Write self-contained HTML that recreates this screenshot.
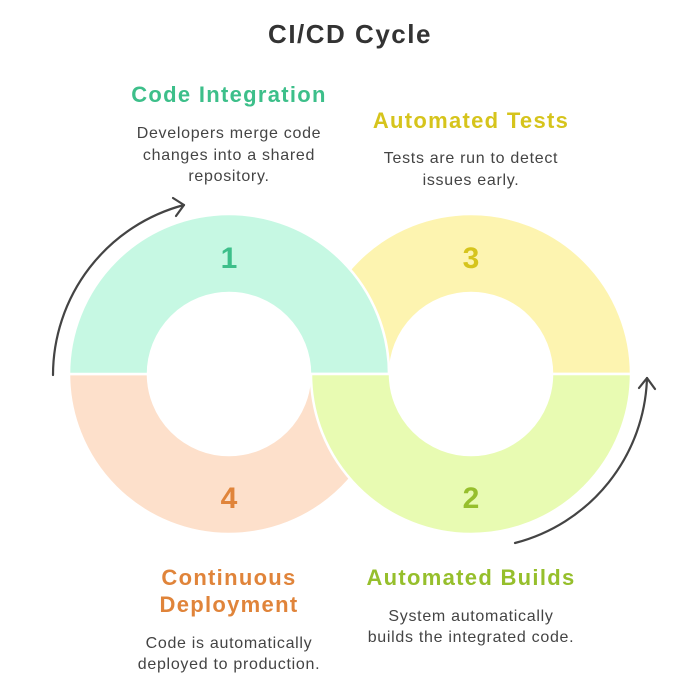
<!DOCTYPE html>
<html><head><meta charset="utf-8"><style>
html,body{margin:0;padding:0;background:#fff;width:700px;height:698px;overflow:hidden}
svg{display:block}
text{font-family:"Liberation Sans",sans-serif}
.h{font-weight:bold;font-size:22px;letter-spacing:1.3px;text-anchor:middle}
.b{font-size:16px;letter-spacing:0.7px;fill:#444;text-anchor:middle}
.n{font-weight:bold;font-size:30px;text-anchor:middle}
</style></head><body>
<svg width="700" height="698" viewBox="0 0 700 698">
<text x="350" y="43" text-anchor="middle" font-size="26" letter-spacing="1.5" font-weight="bold" fill="#333">CI/CD Cycle</text>
<g stroke="#fff" stroke-width="2.5">
<path d="M311,374 A160,160 0 0 1 631,374 L552,374 A81,81 0 0 0 390,374 Z" fill="#fdf4b0"/>
<path d="M69,374 A160,160 0 0 0 389,374 L310,374 A81,81 0 0 1 148,374 Z" fill="#fde0cb"/>
<path d="M69,374 A160,160 0 0 1 389,374 L310,374 A81,81 0 0 0 148,374 Z" fill="#c6f8e3"/>
<path d="M311,374 A160,160 0 0 0 631,374 L552,374 A81,81 0 0 1 390,374 Z" fill="#e8fbb2"/>
</g>
<g fill="none" stroke="#444" stroke-width="2.2" stroke-linecap="round" stroke-linejoin="round">
<path d="M53,375 A176,176 0 0 1 184,205"/>
<path d="M173,198 L184,205 L176,216"/>
<path d="M515,543 A176,176 0 0 0 647,378"/>
<path d="M639,388 L647,378 L655,389"/>
</g>
<text class="n" x="229" y="268" fill="#3dbf8a">1</text>
<text class="n" x="471" y="268" fill="#d6c41c">3</text>
<text class="n" x="229" y="508" fill="#e0843a">4</text>
<text class="n" x="471" y="508" fill="#96bf2c">2</text>
<text class="h" x="229" y="102" fill="#3dbf8a">Code Integration</text>
<text class="b" x="229" y="138">Developers merge code</text>
<text class="b" x="229" y="160">changes into a shared</text>
<text class="b" x="229" y="181">repository.</text>
<text class="h" x="471" y="128" fill="#d6c41c">Automated Tests</text>
<text class="b" x="471" y="163">Tests are run to detect</text>
<text class="b" x="471" y="185">issues early.</text>
<text class="h" x="229" y="585" fill="#e0843a">Continuous</text>
<text class="h" x="229" y="612" fill="#e0843a">Deployment</text>
<text class="b" x="229" y="648">Code is automatically</text>
<text class="b" x="229" y="669">deployed to production.</text>
<text class="h" x="471" y="585" fill="#96bf2c">Automated Builds</text>
<text class="b" x="471" y="621">System automatically</text>
<text class="b" x="471" y="642">builds the integrated code.</text>
</svg>
</body></html>
